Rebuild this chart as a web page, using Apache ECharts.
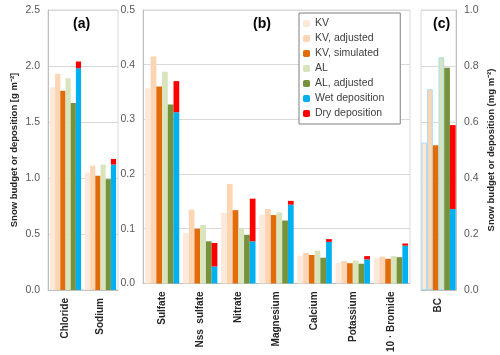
<!DOCTYPE html>
<html>
<head>
<meta charset="UTF-8">
<title>Snow budget or deposition</title>
<style>
body { margin:0; padding:0; border:0; }
</style>
<script src="https://cdn.jsdelivr.net/npm/echarts@6/dist/echarts.min.js"></script>
</head>
<body>
<div id="main" style="width:500px;height:355px;"></div>
<script>
// categories of the three panels (a: 0-1, b: 2-8, c: 9)
var categories = ['Chloride', 'Sodium', 'Sulfate', 'Nss  sulfate', 'Nitrate', 'Magnesium',
                  'Calcium', 'Potassium', '10 · Bromide', 'BC'];
var seriesNames = ['KV', 'KV, adjusted', 'KV, simulated', 'AL', 'AL, adjusted', 'Wet deposition', 'Dry deposition'];

// values
var kv     = [1.81, 1.05, 0.357, 0.092, 0.129, 0.126, 0.051, 0.038, 0.046, 0.527];
var kvAdj  = [1.93, 1.11, 0.415, 0.135, 0.182, 0.136, 0.056, 0.041, 0.049, 0.717];
var kvSim  = [1.78, 1.02, 0.360, 0.100, 0.134, 0.125, 0.052, 0.037, 0.045, 0.517];
var al     = [1.89, 1.12, 0.387, 0.107, 0.101, 0.130, 0.060, 0.042, 0.050, 0.831];
var alAdj  = [1.67, 0.99, 0.327, 0.077, 0.089, 0.115, 0.047, 0.036, 0.048, 0.794];
var wet    = [1.98, 1.12, 0.313, 0.031, 0.077, 0.144, 0.076, 0.044, 0.069, 0.289];
var dry    = [0.06, 0.05, 0.057, 0.043, 0.078, 0.007, 0.005, 0.006, 0.004, 0.300];

var yTicksA = [0, 2.5, 0.5];
var yTicksB = [0, 0.5, 0.1];
var yTicksC = [0, 1.0, 0.2];

var colors = ['#fde9d9', '#fcd5b4', '#e26b0a', '#d8e4bc', '#76923c', '#00b0f0', '#ff0000'];
var font = 'Liberation Sans';

var panels = [
    {from: 0, to: 2,  left: 48,  width: 70,  ticks: yTicksA, side: 'left',  gap: '11%', title: '(a)', tx: 68,
     name: 'Snow budget or deposition [g m\u207B\u00B2]', nameGap: 29},
    {from: 2, to: 9,  left: 143, width: 267, ticks: yTicksB, side: 'left',  gap: '10%', title: '(b)', tx: 248,
     name: '', nameGap: 30},
    {from: 9, to: 10, left: 421, width: 35,  ticks: yTicksC, side: 'right', gap: '2%',  title: '(c)', tx: 428,
     name: 'Snow budget or deposition (mg m\u207B\u00B2)', nameGap: 30}
];

var grids = [], xAxes = [], yAxes = [], series = [], titles = [];
var values = [kv, kvAdj, kvSim, al, alAdj, wet, dry];

panels.forEach(function (p, i) {
    grids.push({left: p.left, width: p.width, top: 10, height: 280, show: true,
                borderColor: '#d9d9d9', borderWidth: 1});
    xAxes.push({
        type: 'category', gridIndex: i,
        data: categories.slice(p.from, p.to),
        axisLine: {lineStyle: {color: '#bfbfbf'}},
        axisTick: {show: false},
        axisLabel: {rotate: 90, interval: 0, fontFamily: font, fontWeight: 'bold',
                    fontSize: 10, color: '#262626', margin: 8}
    });
    yAxes.push({
        type: 'value', gridIndex: i, position: p.side,
        min: p.ticks[0], max: p.ticks[1], interval: p.ticks[2],
        name: p.name, nameLocation: 'middle', nameGap: p.nameGap,
        nameTextStyle: {fontFamily: font, fontWeight: 'bold', fontSize: 9.5, color: '#262626'},
        axisLine: {show: true, lineStyle: {color: '#bfbfbf'}},
        axisTick: {show: false},
        splitLine: {lineStyle: {color: '#d9d9d9'}},
        axisLabel: {fontFamily: font, fontSize: 10.5, color: '#595959', margin: 8,
                    formatter: function (v) { return v.toFixed(1); }}
    });
    titles.push({text: p.title, left: p.tx, top: 12,
                 textStyle: {fontFamily: font, fontWeight: 'bold', fontSize: 14, color: '#000'}});
    values.forEach(function (arr, k) {
        var s = {
            name: seriesNames[k], type: 'bar', xAxisIndex: i, yAxisIndex: i,
            data: arr.slice(p.from, p.to),
            barGap: '0%', barCategoryGap: p.gap,
            itemStyle: {color: colors[k]},
            emphasis: {disabled: true}
        };
        if (k >= 5) s.stack = 'dep' + i;
        if (i === 2 && (k === 0 || k === 1 || k === 3)) {
            s.itemStyle.borderColor = '#a9dcf0';
            s.itemStyle.borderWidth = 1;
        }
        series.push(s);
    });
});

var myChart = echarts.init(document.getElementById('main'));
myChart.setOption({
    animation: false,
    title: titles,
    legend: {
        data: seriesNames, orient: 'vertical', left: 299, top: 13,
        itemWidth: 7, itemHeight: 7, itemGap: 2, padding: [4, 16, 4, 4],
        borderColor: '#7f7f7f', borderWidth: 1, backgroundColor: '#fff',
        textStyle: {fontFamily: font, fontSize: 10.5, color: '#404040', lineHeight: 13}
    },
    grid: grids,
    xAxis: xAxes,
    yAxis: yAxes,
    series: series
});
</script>
</body>
</html>
